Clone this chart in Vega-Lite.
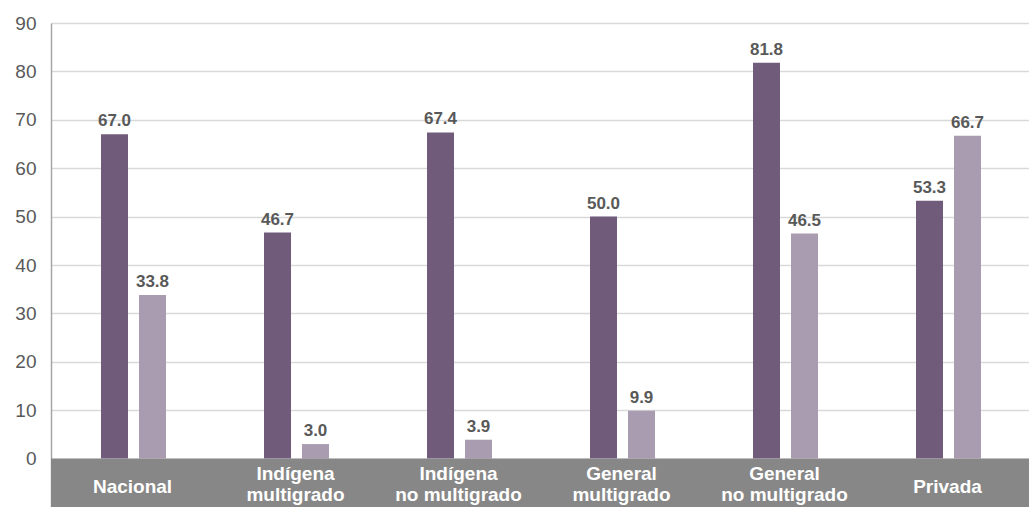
{
  "$schema": "https://vega.github.io/schema/vega-lite/v6.json",
  "width": 978,
  "height": 484,
  "autosize": "none",
  "padding": {"left": 51, "top": 23, "right": 0, "bottom": 0},
  "background": "white",
  "config": {"view": {"stroke": null}, "font": "Liberation Sans"},
  "datasets": {
    "barras": [
      {"categoria": "Nacional", "serie": "Serie 1", "valor": 67.0},
      {"categoria": "Nacional", "serie": "Serie 2", "valor": 33.8},
      {"categoria": "Indígena\nmultigrado", "serie": "Serie 1", "valor": 46.7},
      {"categoria": "Indígena\nmultigrado", "serie": "Serie 2", "valor": 3.0},
      {"categoria": "Indígena\nno multigrado", "serie": "Serie 1", "valor": 67.4},
      {"categoria": "Indígena\nno multigrado", "serie": "Serie 2", "valor": 3.9},
      {"categoria": "General\nmultigrado", "serie": "Serie 1", "valor": 50.0},
      {"categoria": "General\nmultigrado", "serie": "Serie 2", "valor": 9.9},
      {"categoria": "General\nno multigrado", "serie": "Serie 1", "valor": 81.8},
      {"categoria": "General\nno multigrado", "serie": "Serie 2", "valor": 46.5},
      {"categoria": "Privada", "serie": "Serie 1", "valor": 53.3},
      {"categoria": "Privada", "serie": "Serie 2", "valor": 66.7}
    ],
    "categorias": [
      {"categoria": "Nacional"},
      {"categoria": "Indígena\nmultigrado"},
      {"categoria": "Indígena\nno multigrado"},
      {"categoria": "General\nmultigrado"},
      {"categoria": "General\nno multigrado"},
      {"categoria": "Privada"}
    ],
    "banda": [{"desde": -10, "hasta": 0}]
  },
  "layer": [
    {
      "data": {"name": "barras"},
      "mark": {"type": "bar"},
      "encoding": {
        "x": {
          "field": "categoria", "type": "nominal",
          "sort": ["Nacional", "Indígena\nmultigrado", "Indígena\nno multigrado", "General\nmultigrado", "General\nno multigrado", "Privada"],
          "scale": {"paddingInner": 0, "paddingOuter": 0},
          "axis": null
        },
        "xOffset": {"field": "serie", "type": "nominal", "scale": {"range": [50, 115], "paddingInner": 0.2895, "paddingOuter": 0}},
        "y": {
          "field": "valor", "type": "quantitative",
          "scale": {"domain": [-10, 90], "nice": false, "zero": false},
          "axis": {
            "values": [0, 10, 20, 30, 40, 50, 60, 70, 80, 90],
            "title": null, "grid": true, "gridColor": "#d9d9d9", "gridWidth": 1.5,
            "domainColor": "#a6a6a6", "domainWidth": 1.5, "ticks": false,
            "labelFontSize": 19, "labelColor": "#595959", "labelPadding": 15
          }
        },
        "color": {"field": "serie", "type": "nominal", "scale": {"range": ["#705c7a", "#a99bb0"]}, "legend": null}
      }
    },
    {
      "data": {"name": "barras"},
      "mark": {"type": "text", "baseline": "bottom", "dy": -4, "fontWeight": "bold", "fontSize": 17, "color": "#595959"},
      "encoding": {
        "x": {
          "field": "categoria", "type": "nominal",
          "sort": ["Nacional", "Indígena\nmultigrado", "Indígena\nno multigrado", "General\nmultigrado", "General\nno multigrado", "Privada"]
        },
        "xOffset": {"field": "serie", "type": "nominal"},
        "y": {"field": "valor", "type": "quantitative"},
        "text": {"field": "valor", "type": "quantitative", "format": ".1f"}
      }
    },
    {
      "data": {"name": "banda"},
      "mark": {"type": "rect", "color": "#878787"},
      "encoding": {
        "y": {"field": "desde", "type": "quantitative"},
        "y2": {"field": "hasta"}
      }
    },
    {
      "data": {"name": "categorias"},
      "transform": [{"filter": "indexof(datum.categoria, '\\n') >= 0"}],
      "mark": {"type": "text", "baseline": "middle", "align": "center", "fontWeight": "bold", "fontSize": 19, "color": "white", "lineBreak": "\n", "lineHeight": 21},
      "encoding": {
        "x": {
          "field": "categoria", "type": "nominal",
          "sort": ["Nacional", "Indígena\nmultigrado", "Indígena\nno multigrado", "General\nmultigrado", "General\nno multigrado", "Privada"]
        },
        "y": {"datum": -3.1, "type": "quantitative"},
        "text": {"field": "categoria", "type": "nominal"}
      }
    },
    {
      "data": {"name": "categorias"},
      "transform": [{"filter": "indexof(datum.categoria, '\\n') < 0"}],
      "mark": {"type": "text", "baseline": "middle", "align": "center", "fontWeight": "bold", "fontSize": 19, "color": "white"},
      "encoding": {
        "x": {
          "field": "categoria", "type": "nominal",
          "sort": ["Nacional", "Indígena\nmultigrado", "Indígena\nno multigrado", "General\nmultigrado", "General\nno multigrado", "Privada"]
        },
        "y": {"datum": -5.8, "type": "quantitative"},
        "text": {"field": "categoria", "type": "nominal"}
      }
    }
  ]
}
